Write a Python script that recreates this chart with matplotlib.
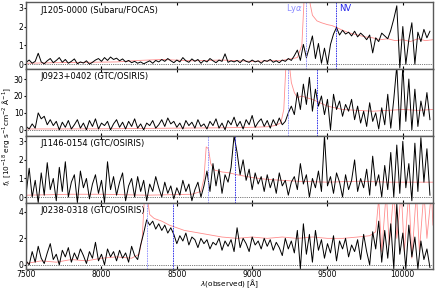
import numpy as np
import matplotlib
matplotlib.use("Agg")
import matplotlib.pyplot as plt

# observed wavelength grid of the binned spectra (Angstrom)
wave = np.arange(7500, 10200, 20)

names = ["J1205-0000 (Subaru/FOCAS)", "J0923+0402 (GTC/OSIRIS)",
         "J1146-0154 (GTC/OSIRIS)", "J0238-0318 (GTC/OSIRIS)"]
redshifts = [6.70, 6.60, 6.16, 5.83]
ylims = [(-0.25, 3.3), (-3.5, 36), (-0.3, 3.3), (-0.35, 4.7)]
yticks = [[0, 1, 2, 3], [0, 10, 20, 30], [0, 1, 2, 3], [0, 2, 4]]

flux_j1205 = [
    0.10, 0.22, 0.05, 0.15, 0.58, 0.12, 0.02, 0.18, 0.30, 0.08,
    0.20, 0.35, 0.10, 0.25, 0.05, 0.15, 0.28, 0.02, 0.12, 0.06,
    0.18, 0.00, 0.10, 0.22, 0.30, 0.15, 0.35, 0.20, 0.38, 0.25,
    0.32, 0.18, 0.28, 0.12, 0.20, 0.08, 0.15, 0.05, 0.12, 0.02,
    0.10, 0.18, 0.05, 0.20, 0.12, 0.25, 0.15, 0.30, 0.18, 0.08,
    0.22, 0.12, 0.35, 0.18, 0.10, 0.28, 0.15, 0.25, 0.05, 0.20,
    0.12, 0.30, 0.18, 0.08, 0.22, 0.15, 0.55, 0.10, 0.18, 0.12,
    0.20, 0.08, 0.25, 0.15, 0.10, 0.22, 0.12, 0.18, 0.05, 0.20,
    0.15, 0.25, 0.10, 0.18, 0.08, 0.22, 0.15, 0.30, 0.20, 0.45,
    0.75, 0.20, 1.05, 0.35, 0.90, 1.50, 0.30, 1.10, 0.05, 0.85,
    0.00, 1.05, 1.60, 1.95, 1.55, 1.80, 1.60, 1.70, 1.50, 1.75,
    1.45, 1.65, 1.50, 1.30, 1.55, 0.60, 1.40, 1.20, 1.65, 1.50,
    1.35, 1.80, 2.40, 3.10, -0.20, 2.00, 0.00, 1.30, 2.20, 0.00,
    1.70, 1.20, 1.85, 1.40, 1.75]

flux_j0923 = [
    2.0, 0.5, 3.5, 1.0, 10.0, 6.5, 8.0, 3.0, 6.0, 2.5,
    5.0, 0.0, 4.5, 1.5, 5.5, 0.5, 3.0, 6.0, 1.0, 4.0,
    0.0, 5.5, 2.0, 6.5, 0.5, 4.0, 2.5, 5.0, 0.0, 3.5,
    6.0, 1.5, 4.5, 0.5, 5.0, 2.0, 6.5, 1.0, 3.5, 0.0,
    4.0, 2.5, 5.5, 1.0, 3.0, 6.0, 2.0, 7.0, 3.5, 5.0,
    1.5, 4.0, 0.5, 5.5, 2.5, 4.5, 1.0, 6.0, 2.0, 3.5,
    0.5, 5.0, 2.5, 6.5, 1.0, 4.0, 0.0, 5.5, 3.0, 7.5,
    2.0, 5.0, 0.5, 6.0, 3.0, 8.5, 1.5, 4.5, 6.5, 2.0,
    5.5, 1.0, 6.0, 2.5, 7.0, 3.0, 5.0, 10.0, 14.0, 9.0,
    22.0, 12.0, 27.0, 15.0, 31.0, 11.0, 24.0, 14.0, 20.0, 9.0,
    18.0, 0.0, 21.0, 12.0, 17.0, 8.0, 15.0, 11.0, 18.0, 6.0,
    14.0, 4.0, 11.0, 2.0, 16.0, 5.0, 10.0, 0.5, 13.0, 3.0,
    21.0, 1.0, 18.0, 38.0, 0.0, 38.0, 5.0, 30.0, 0.0, 24.0,
    2.0, 17.0, 8.0, 22.0, 6.0]

flux_j1146 = [
    0.2, 1.55, 0.0, 0.9, -0.3, 1.3, 0.1, 1.85, 0.4, 1.0,
    -0.2, 1.6, 0.3, 1.9, 0.0, 0.8, 1.2, -0.3, 1.4, 0.5,
    1.0, -0.1, 0.7, 1.2, 0.2, 0.9, -0.3, 1.9, 0.4, 1.1,
    0.1, 0.8, 1.3, -0.2, 0.6, 1.0, 0.0, 1.1, 0.3, 0.9,
    -0.2, 0.7, 0.3, 1.1, 0.5, 0.0, 0.8, 0.2, 0.6, -0.1,
    0.5, 0.1, 0.9, 0.3, 0.7, -0.2, 0.4, 0.8, 0.0, 0.6,
    1.4, 0.3, 1.8, 0.6, 1.5, 0.2, 1.2, 0.8, 1.6, 3.3,
    2.4, 1.2, 2.0, 0.9, 1.5, 0.4, 1.3, 0.7, 1.1, 0.3,
    1.2, 0.5, 1.0, 0.2, 1.3, 0.6, 0.9, 0.1, 0.8, 1.1,
    0.4, 1.8, 0.7, 1.2, 0.0, 1.0, 0.5, 1.4, 0.3, 3.3,
    0.6, 1.1, 0.2, 1.3, 0.8, 0.0, 1.2, 0.4, 0.9, 2.0,
    0.3, 1.0, 0.5, 1.5, 0.1, 2.2, 0.6, 1.2, 0.0, 1.7,
    0.4, 2.4, 0.0, 2.8, 0.2, 3.0, 0.5, 1.8, -0.2, 2.9,
    0.3, 3.2, 0.8, 2.6, 0.1]

flux_j0238 = [
    0.3, 0.0, 1.0, 0.2, 1.4, 0.5, 0.1, 0.9, 1.6, 0.4,
    0.8, 0.0, 1.1, 0.6, 1.3, 0.2, 0.9, 0.4, 1.2, 0.7,
    0.1, 1.0, 0.5, 1.7, 0.3, 0.8, 0.0, 1.2, 0.6, 1.0,
    0.3, 1.1, 0.5, 0.9, 0.2, 1.4, 0.7, 0.4, 1.5, 2.4,
    3.4, 3.0, 3.3, 2.7, 3.1, 2.6, 3.0, 2.4, 2.8, 2.3,
    1.6, 2.2, 1.8, 2.4, 1.5, 2.1, 1.9, 1.3, 2.0, 1.6,
    1.9, 1.2, 1.7, 1.5, 2.0, 1.1, 1.8, 1.4, 1.9, 1.0,
    2.8, 1.3, 2.0, 1.6, 1.0, 2.1, 1.5, 1.8, 1.2, 2.0,
    1.4, 1.9, 1.1, 1.7, 1.3, 0.7, 2.0, 1.2, 1.8, 0.9,
    2.6, -0.3, 3.1, 0.8, 2.3, 0.2, 2.6, 1.1, 1.9, 0.5,
    1.6, 0.9, 2.2, 0.3, 1.8, 1.2, 2.0, 0.6, 1.5, 1.0,
    1.9, 0.4, 2.3, 1.0, 0.0, 2.5, 1.2, 3.3, 0.2, 2.6,
    0.5, 3.1, -0.3, 4.6, 0.8, 2.4, -0.3, 3.0, 0.6, 2.1,
    -0.3, 1.8, 0.4, 1.2, -0.2]

# composite quasar template redshifted to each object (red curve)
tmpl_wave_j1205 = [7500, 7700, 7900, 8100, 8250, 8400, 8600, 8800, 9000, 9200,
                   9300, 9330, 9345, 9355, 9370, 9385, 9400, 9430, 9460, 9500,
                   9530, 9560, 9600, 9650, 9700, 9750, 9800, 9850, 9900, 9950,
                   10000, 10050, 10100, 10150, 10200]
tmpl_flux_j1205 = [0.05, 0.08, 0.10, 0.12, 0.20, 0.25, 0.18, 0.22, 0.15, 0.20,
                   0.35, 1.00, 3.50, 6.00, 5.00, 3.20, 2.60, 2.30, 2.20, 2.10,
                   2.05, 1.95, 1.80, 1.65, 1.55, 1.45, 1.40, 1.30, 1.35, 1.25,
                   1.30, 1.20, 1.35, 1.25, 1.30]

tmpl_wave_j0923 = [7500, 8000, 8500, 8800, 9000, 9100, 9150, 9190, 9210, 9225,
                   9245, 9260, 9280, 9300, 9330, 9360, 9400, 9450, 9500, 9550,
                   9600, 9700, 9800, 9900, 10000, 10100, 10200]
tmpl_flux_j0923 = [0.5, 0.6, 1.0, 1.2, 1.5, 1.8, 2.5, 4.0, 12.0, 40.0,
                   40.0, 28.0, 22.0, 19.0, 20.0, 19.0, 18.0, 16.0, 14.0, 13.0,
                   12.0, 11.5, 11.0, 11.5, 12.0, 11.5, 12.0]

tmpl_wave_j1146 = [7500, 7800, 8000, 8300, 8600, 8660, 8680, 8695, 8710, 8725,
                   8750, 8800, 8850, 8900, 9000, 9100, 9200, 9300, 9500, 9700,
                   9900, 10000, 10200]
tmpl_flux_j1146 = [0.10, 0.15, 0.15, 0.10, 0.15, 0.30, 1.00, 2.70, 2.60, 1.80,
                   1.45, 1.35, 1.30, 1.20, 1.05, 0.95, 0.90, 0.85, 0.80, 0.85,
                   0.80, 0.80, 0.80]

tmpl_wave_j0238 = [7500, 7600, 7700, 7800, 7900, 8000, 8100, 8200, 8250, 8270,
                   8285, 8305, 8320, 8350, 8400, 8450, 8500, 8550, 8600, 8700,
                   8800, 8900, 9000, 9100, 9200, 9300, 9400, 9500, 9600, 9700,
                   9780, 9820, 9840, 9860, 9890, 9910, 9940, 9960, 9990, 10010,
                   10040, 10060, 10090, 10110, 10140, 10160, 10190, 10200]
tmpl_flux_j0238 = [0.10, 0.30, 0.20, 0.40, 0.30, 0.50, 0.60, 0.50, 0.80, 2.00,
                   5.00, 5.00, 3.80, 3.50, 3.30, 3.00, 2.80, 2.60, 2.50, 2.30,
                   2.10, 2.00, 2.10, 2.00, 2.10, 2.00, 2.10, 2.00, 2.00, 2.10,
                   2.20, 2.50, 5.00, 1.00, 5.50, 1.50, 5.50, 2.00, 5.50, 1.00,
                   5.50, 0.50, 5.50, 1.00, 5.50, 2.00, 5.50, 3.00]

fluxes = [flux_j1205, flux_j0923, flux_j1146, flux_j0238]
tmpl_waves = [tmpl_wave_j1205, tmpl_wave_j0923, tmpl_wave_j1146, tmpl_wave_j0238]
tmpl_fluxes = [tmpl_flux_j1205, tmpl_flux_j0923, tmpl_flux_j1146, tmpl_flux_j0238]

LYA = 1215.67
NV = 1240.81
lya_col = "#8c8cff"
nv_col = "#2020e8"

plt.rcParams["font.size"] = 5.5
fig, axes = plt.subplots(4, 1, figsize=(4.36, 2.91), dpi=100, sharex=True)
fig.subplots_adjust(left=0.06, right=0.993, top=0.993, bottom=0.074, hspace=0)

for i, ax in enumerate(axes):
    z = redshifts[i]
    ax.plot(tmpl_waves[i], tmpl_fluxes[i], color="red", alpha=0.45, lw=0.6)
    ax.plot(wave, fluxes[i], color="black", lw=0.7)
    ax.axhline(0, color="black", ls=":", lw=0.5)
    ax.axvline(LYA * (1 + z), color=lya_col, ls=(0, (2, 1)), lw=0.6)
    ax.axvline(NV * (1 + z), color=nv_col, ls=(0, (2, 1)), lw=0.6)
    ax.set_xlim(7500, 10200)
    ax.set_ylim(*ylims[i])
    ax.set_yticks(yticks[i])
    ax.text(0.035, 0.88, names[i], transform=ax.transAxes, fontsize=6, va="center")
    ax.tick_params(axis="x", direction="in", top=True, length=2.5, labelsize=5.5, pad=0.5)
    ax.tick_params(axis="y", direction="out", length=1.5, labelsize=5.5, pad=0.5)
    for sp in ax.spines.values():
        sp.set_color("0.35")
        sp.set_linewidth(1.0)
    if i == 0:
        ax.text(LYA * (1 + z) - 20, 2.95, r"Ly$\alpha$", color=lya_col,
                fontsize=6, ha="right", va="center")
        ax.text(NV * (1 + z) + 20, 2.95, "NV", color=nv_col,
                fontsize=6, ha="left", va="center")

axes[-1].set_xticks([7500, 8000, 8500, 9000, 9500, 10000])
fig.text(0.526, 0.002, r"$\lambda$(observed) [Å]", ha="center", va="bottom", fontsize=5.3)
fig.text(0.002, 0.53, r"$f_\lambda$ [$10^{-18}$ erg s$^{-1}$cm$^{-2}$ Å$^{-1}$]",
         rotation=90, ha="left", va="center", fontsize=5.3)

fig.savefig("out.png", dpi=100)
